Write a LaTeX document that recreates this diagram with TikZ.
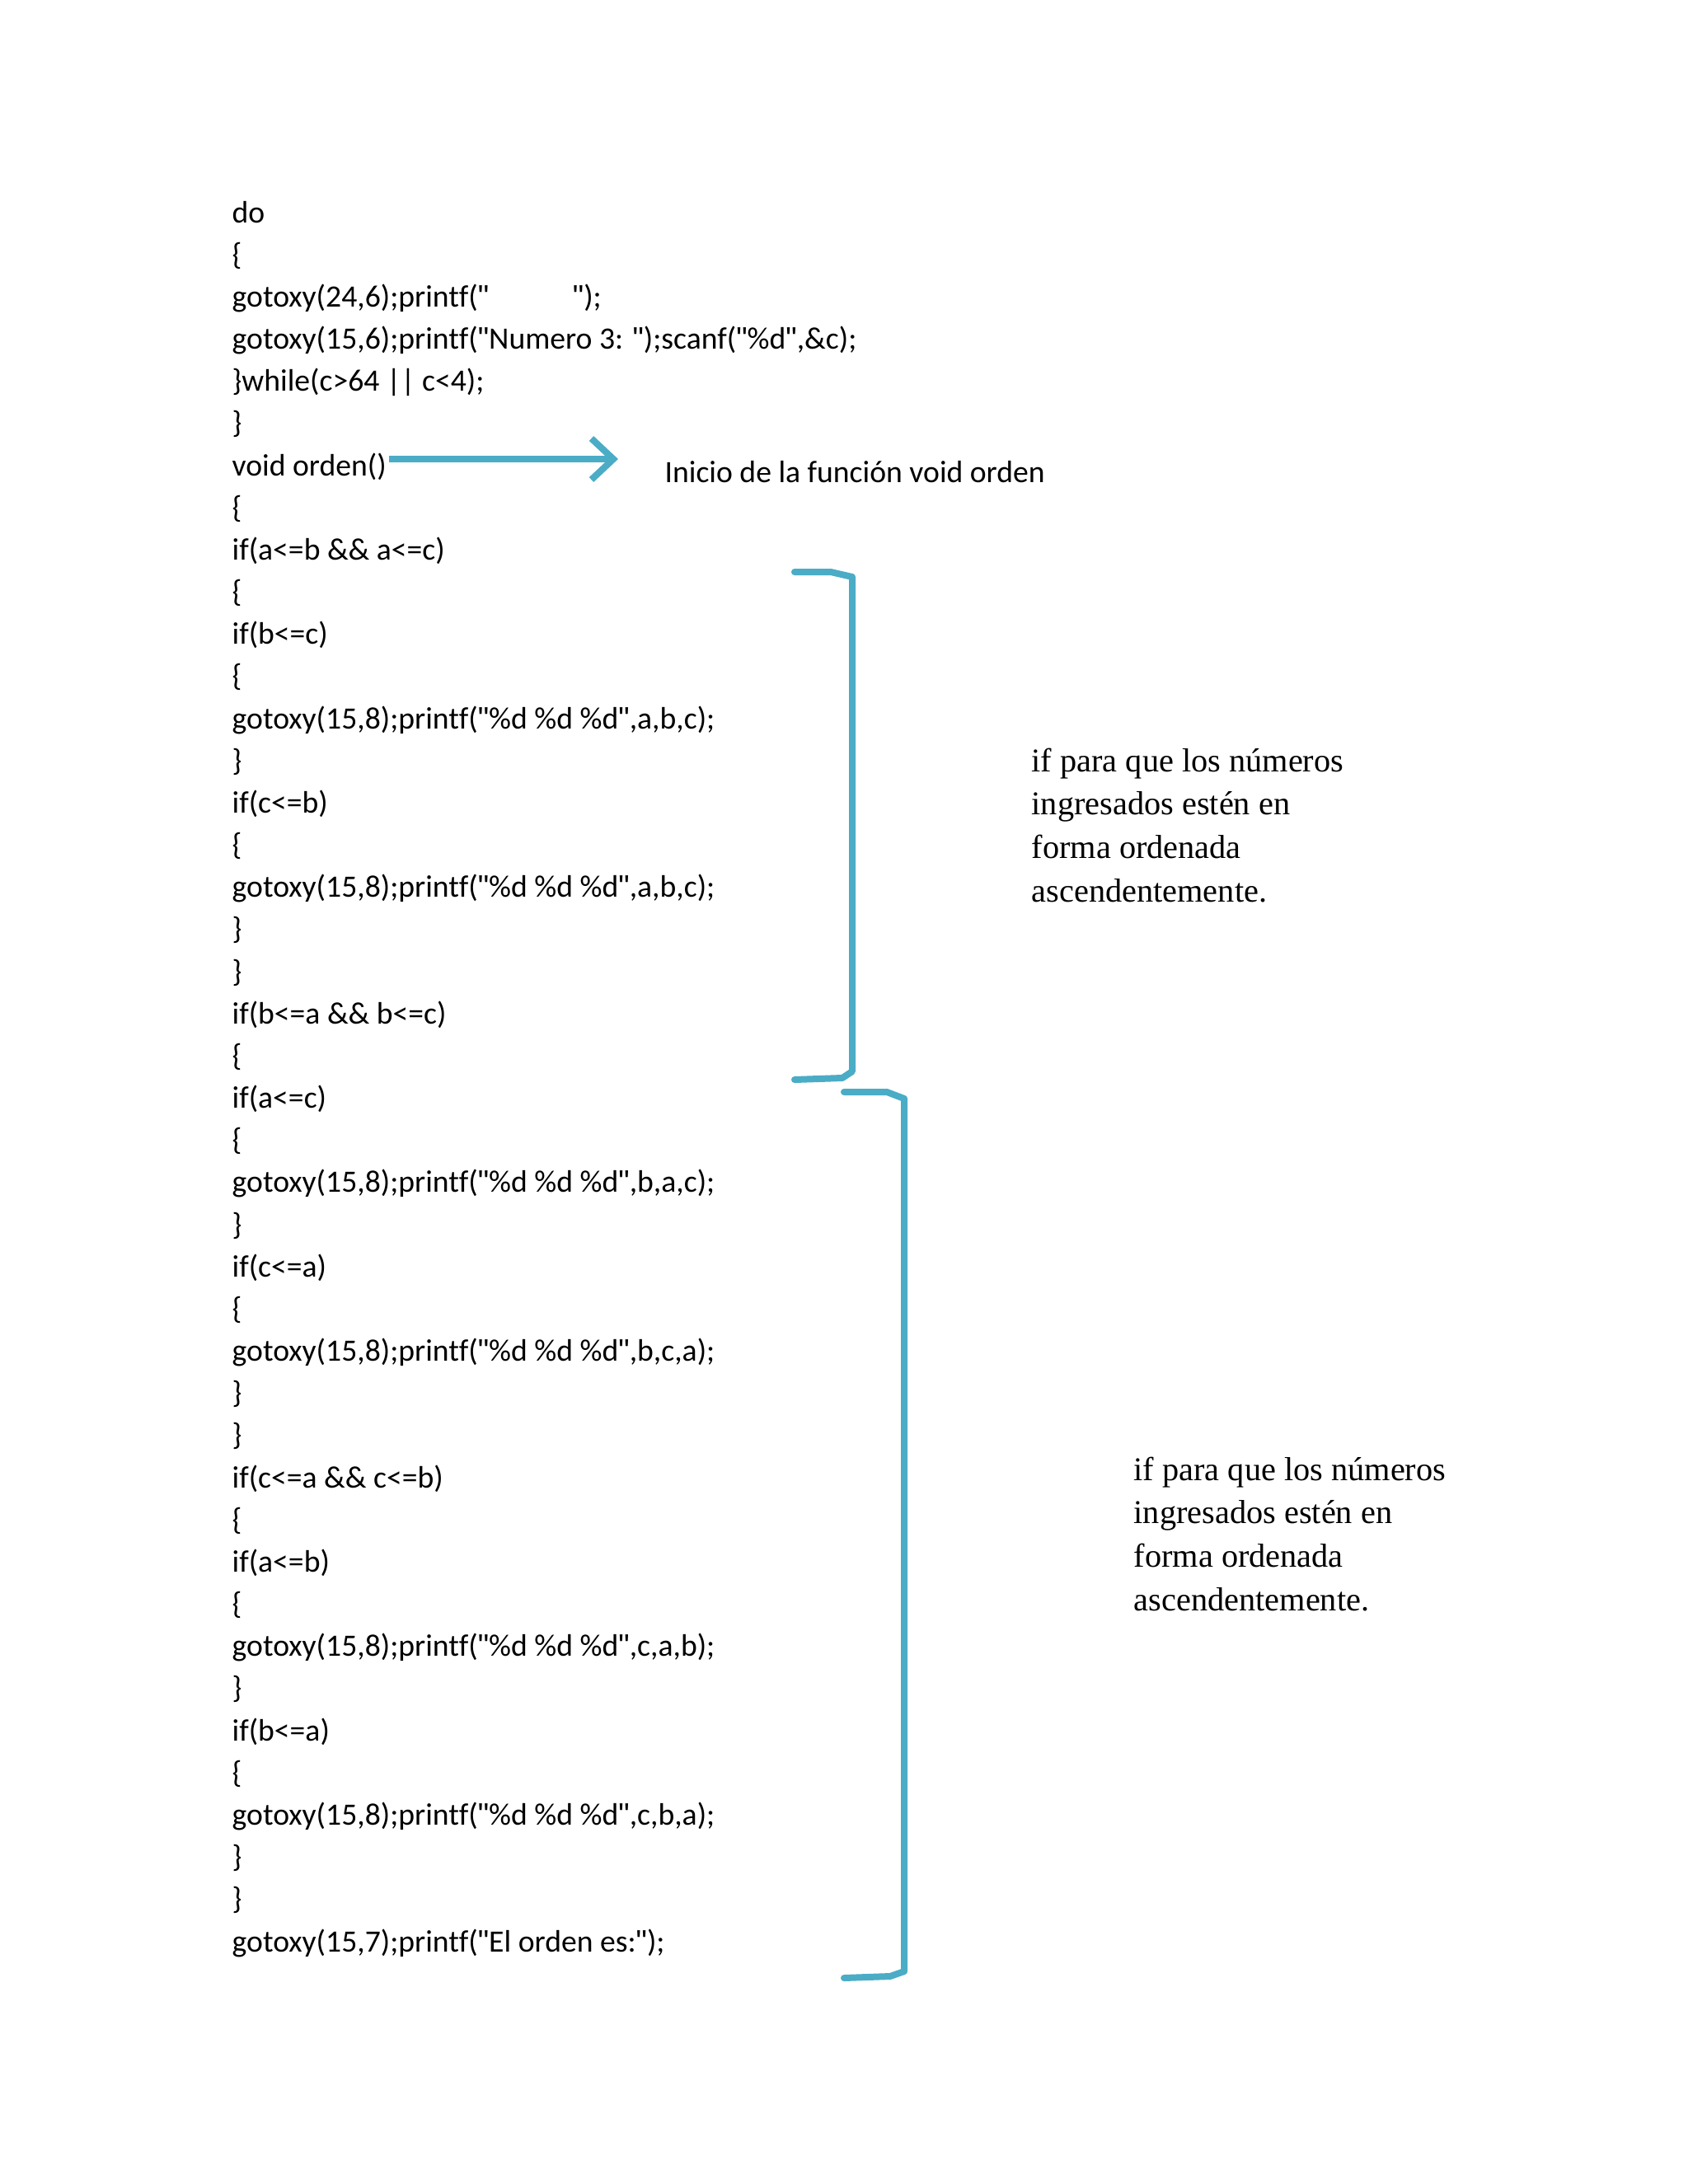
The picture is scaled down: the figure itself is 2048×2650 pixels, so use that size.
\documentclass[tikz,border=0pt]{standalone}
\usepackage{fontspec}
\setmainfont[Ligatures=NoCommon]{Carlito}
\newfontfamily\tnr{Liberation Serif}
\newfontfamily\qfont{Liberation Sans}
\usetikzlibrary{arrows.meta}
\definecolor{bl}{RGB}{75,172,198}
\newcommand\qq{{\qfont\char"22\relax}}
\begin{document}
\begin{tikzpicture}[x=0.3pt,y=-0.3pt,
  code/.style={anchor=base west,inner sep=0pt,font=\fontsize{11.3}{13}\selectfont},
  note/.style={anchor=base west,inner sep=0pt,font=\tnr\fontsize{12.1}{15.8}\selectfont,align=left},
  brk/.style={draw=bl,line width=2.4pt,line join=round,line cap=round}]
\useasboundingbox (0,0) rectangle (2048,2650);
\def\L#1#2{\node[code] (l#1) at (281,{270+#1*51.17}) {#2};}
\L{0}{do}
\L{1}{\{}
\L{2}{gotoxy(24,6);printf(\qq\hspace{2.7em}\qq);}
\L{3}{gotoxy(15,6);printf(\qq Numero 3: \qq);scanf(\qq\%d\qq,\&c);}
\L{4}{\}while(c>64 || c<4);}
\L{5}{\}}
\L{6}{void orden()}
\L{7}{\{}
\L{8}{if(a<=b \&\& a<=c)}
\L{9}{\{}
\L{10}{if(b<=c)}
\L{11}{\{}
\L{12}{gotoxy(15,8);printf(\qq\%d \%d \%d\qq,a,b,c);}
\L{13}{\}}
\L{14}{if(c<=b)}
\L{15}{\{}
\L{16}{gotoxy(15,8);printf(\qq\%d \%d \%d\qq,a,b,c);}
\L{17}{\}}
\L{18}{\}}
\L{19}{if(b<=a \&\& b<=c)}
\L{20}{\{}
\L{21}{if(a<=c)}
\L{22}{\{}
\L{23}{gotoxy(15,8);printf(\qq\%d \%d \%d\qq,b,a,c);}
\L{24}{\}}
\L{25}{if(c<=a)}
\L{26}{\{}
\L{27}{gotoxy(15,8);printf(\qq\%d \%d \%d\qq,b,c,a);}
\L{28}{\}}
\L{29}{\}}
\L{30}{if(c<=a \&\& c<=b)}
\L{31}{\{}
\L{32}{if(a<=b)}
\L{33}{\{}
\L{34}{gotoxy(15,8);printf(\qq\%d \%d \%d\qq,c,a,b);}
\L{35}{\}}
\L{36}{if(b<=a)}
\L{37}{\{}
\L{38}{gotoxy(15,8);printf(\qq\%d \%d \%d\qq,c,b,a);}
\L{39}{\}}
\L{40}{\}}
\L{41}{gotoxy(15,7);printf(\qq El orden es:\qq);}
\node[code] (lab) at (806,585) {Inicio de la función void orden};
\coordinate (a0) at (472,557);
\coordinate (a1) at (750,557);
\draw[draw=bl,line width=2.4pt,-{Straight Barb[length=8pt,width=15pt,line width=2.4pt]}] (a0) -- (a1);
\draw[brk] (964,694) -- (1008,694) -- (1034,700) -- (1034,1300) -- (1022,1308) -- (964,1310);
\draw[brk] (1024,1325) -- (1076,1325) -- (1097,1333) -- (1097,2392) -- (1080,2398) -- (1024,2400);
\node[note] (n1) at (1251,1094) {if para que los números\\ingresados estén en\\forma ordenada\\ascendentemente.};
\node[note] (n2) at (1375,1954) {if para que los números\\ingresados estén en\\forma ordenada\\ascendentemente.};
\end{tikzpicture}
\end{document}
